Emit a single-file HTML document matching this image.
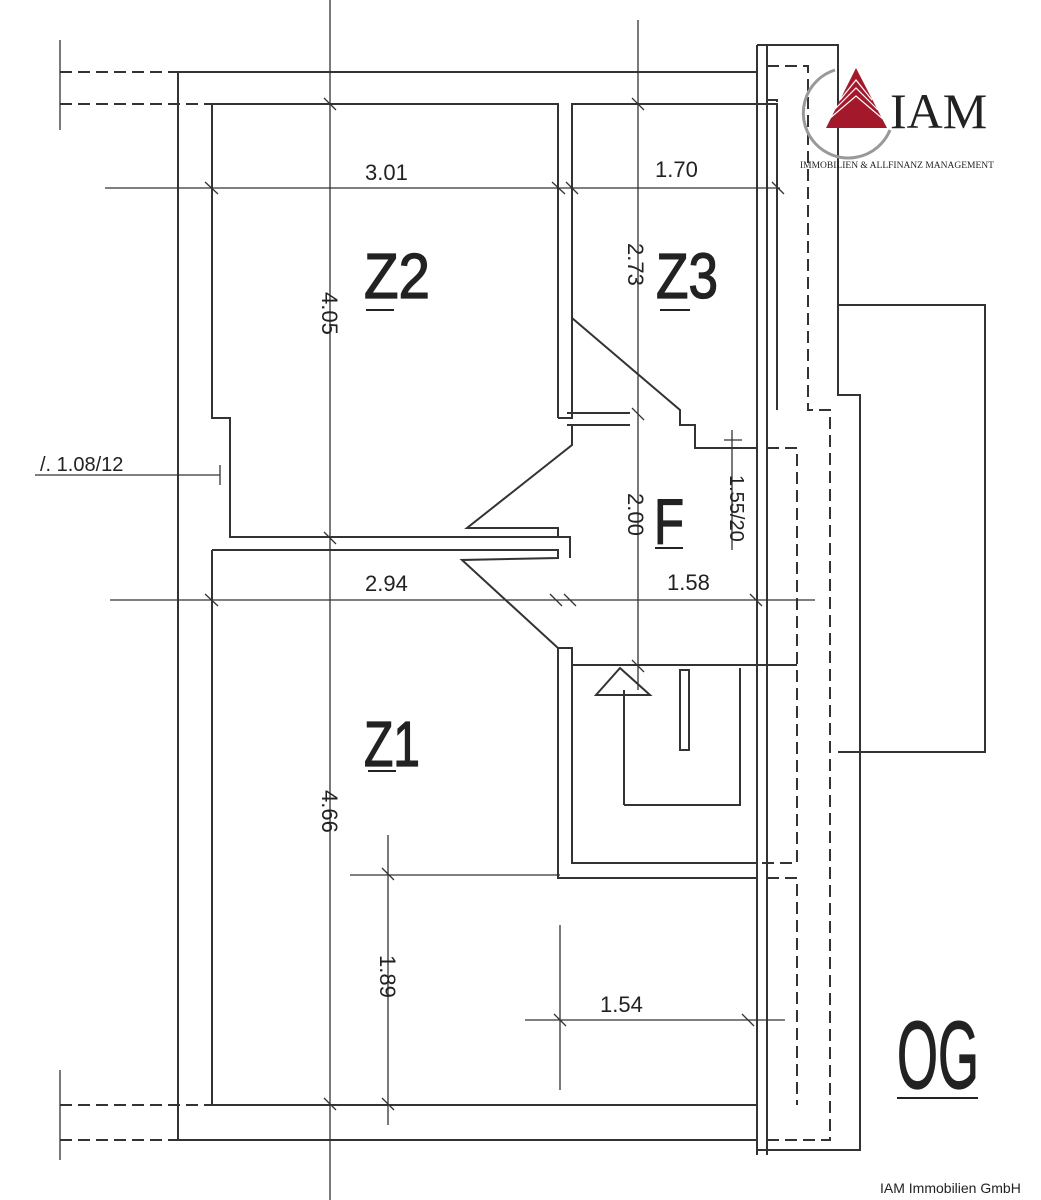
<!DOCTYPE html>
<html><head><meta charset="utf-8"><style>
html,body{margin:0;padding:0;background:#fff;}
svg{display:block}
text{font-family:"Liberation Sans",sans-serif;fill:#222}
</style></head><body>
<svg width="1041" height="1200" viewBox="0 0 1041 1200" xmlns="http://www.w3.org/2000/svg">
<g stroke="#333" stroke-width="2" fill="none">
<path d="M757 72 H178 V1140 H757"/>
<path d="M212 104 H558 V418"/>
<path d="M212 104 V418 H230 V537 H570 V558"/>
<path d="M558 418 H572 V104 H777 V410"/>
<path d="M572 318 L680 410 V425 H695 V448 H757"/>
<path d="M572 425 V445 L467 528 H558 V537"/>
<path d="M567 413 H630 M567 425 H630"/>
<path d="M212 550 H558 V558 L462 560 L558 648 H572 V863 H757"/>
<path d="M212 550 V1105 H757"/>
<path d="M558 648 V878 H757"/>
<path d="M572 665 H797"/>
<path d="M624 805 H740 V668"/>
<path d="M624 690 V805"/>
<path d="M596 695 L620 668 L650 695 Z"/>
<rect x="680" y="670" width="9" height="80"/>
<path d="M757 45 V1155 M767 45 V1155"/>
<path d="M757 45 H838 V395 H860 V1150 H757"/>
<path d="M838 305 H985 V752 H838"/>
</g>
<g stroke="#333" stroke-width="2" fill="none" stroke-dasharray="12 6">
<path d="M60 72 H178 M60 104 H212"/>
<path d="M60 1105 H212 M60 1140 H178"/>
<path d="M767 66 H808 V410 H830 V1140 H767"/>
<path d="M767 100 H777 V410"/>
<path d="M767 448 H797 V863 H757"/>
<path d="M767 878 H797 V1105"/>
<path d="M838 305 V395"/>
</g>
<g stroke="#333" stroke-width="1.3" fill="none">
<path d="M60 40 V130 M60 1070 V1160"/>
<path d="M330 0 V1200"/>
<path d="M638 20 V690"/>
<path d="M105 188 H780"/>
<path d="M110 600 H815"/>
<path d="M35 475 H220 M220 465 V485"/>
<path d="M388 835 V1125 M350 875 H560"/>
<path d="M560 925 V1090 M525 1020 H785"/>
<path d="M732 430 V550 M724 440 H742"/>
<path d="M205 182 L218 194 M552 182 L565 194 M566 182 L578 194 M772 182 L784 194"/>
<path d="M205 594 L218 606 M550 594 L562 606 M564 594 L576 606 M750 594 L762 606"/>
<path d="M324 98 L336 110 M324 532 L336 544 M324 1098 L336 1110 M632 98 L644 110 M632 408 L644 420 M632 660 L644 672"/>
<path d="M382 868 L394 880 M382 1098 L394 1110 M554 1014 L566 1026 M742 1014 L754 1026"/>
</g>
<g font-size="22">
<text x="365" y="180">3.01</text>
<text x="655" y="177">1.70</text>
<text x="365" y="591">2.94</text>
<text x="667" y="590">1.58</text>
<text x="600" y="1012">1.54</text>
<text x="40" y="471" font-size="20">/. 1.08/12</text>
<text transform="translate(322,292) rotate(90)">4.05</text>
<text transform="translate(628,243) rotate(90)">2.73</text>
<text transform="translate(628,493) rotate(90)">2.00</text>
<text transform="translate(322,790) rotate(90)">4.66</text>
<text transform="translate(380,955) rotate(90)">1.89</text>
<text transform="translate(730,475) rotate(90)" font-size="20">1.55/20</text>
</g>
<g stroke="#222" stroke-width="1.3" fill="#fff" font-size="64">
<text x="364" y="298" textLength="66" lengthAdjust="spacingAndGlyphs">Z2</text>
<text x="656" y="298" textLength="62" lengthAdjust="spacingAndGlyphs">Z3</text>
<text x="654" y="544" textLength="30" lengthAdjust="spacingAndGlyphs">F</text>
<text x="364" y="766" textLength="56" lengthAdjust="spacingAndGlyphs">Z1</text>
<text x="897" y="1088" font-size="96" textLength="82" lengthAdjust="spacingAndGlyphs">OG</text>
</g>
<g stroke="#222" stroke-width="2">
<path d="M366 310 H394 M660 310 H690 M655 548 H683 M368 771 H396 M897 1098 H978"/>
</g>
<path d="M835 70 A45 45 0 1 0 890 130" stroke="#999" stroke-width="3" fill="none"/>
<path d="M826 128 L856 68 L887 128 Z" fill="#a3192b"/>
<g stroke="#fff" stroke-width="1.2" fill="none"><path d="M840 100 L856 80 L872 100 M834 110 L856 88 L878 110 M829 119 L856 96 L883 119"/></g>
<text x="890" y="128" font-size="50" fill="#888" style="font-family:'Liberation Serif',serif">IAM</text>
<text x="800" y="168" font-size="9.5" fill="#888" style="font-family:'Liberation Serif',serif">IMMOBILIEN &amp; ALLFINANZ MANAGEMENT</text>
<text x="880" y="1193" font-size="14" fill="#666">IAM Immobilien GmbH</text>
</svg>
</body></html>
